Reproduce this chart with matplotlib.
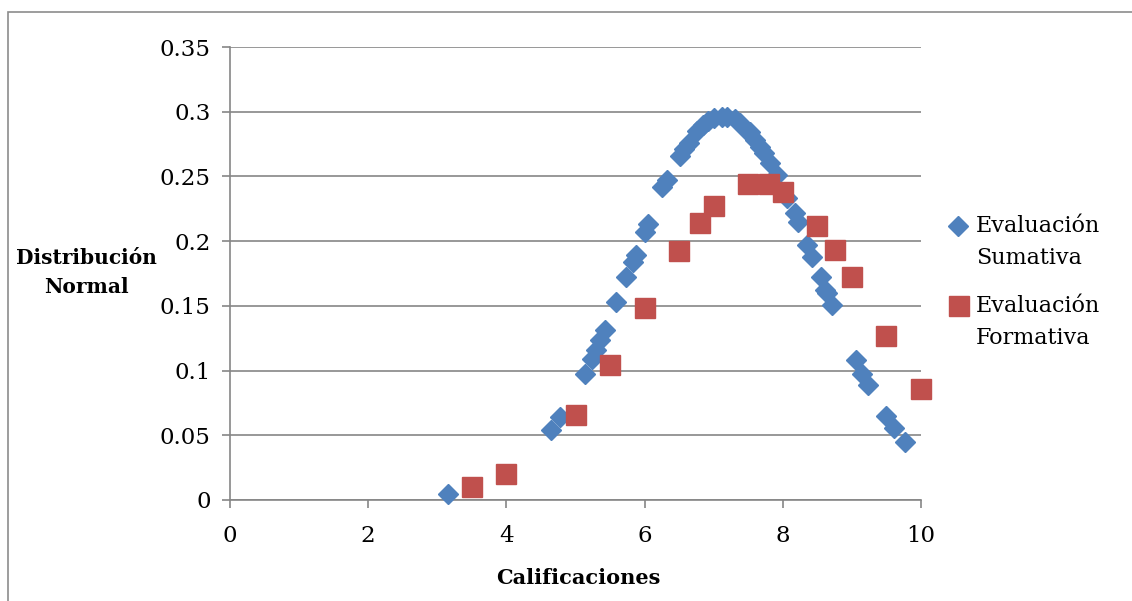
import matplotlib.pyplot as plt
from matplotlib.patches import Rectangle
from matplotlib.lines import Line2D

# Evaluación Sumativa
sum_x = [3.15, 4.65, 4.78, 5.14, 5.24, 5.30, 5.35, 5.43, 5.59, 5.73, 5.83, 5.88,
         6.00, 6.05, 6.25, 6.32, 6.51, 6.57, 6.64, 6.76, 6.84, 6.92, 7.00, 7.12,
         7.19, 7.31, 7.38, 7.45, 7.53, 7.60, 7.67, 7.73, 7.81, 7.92, 8.06, 8.17,
         8.22, 8.35, 8.42, 8.55, 8.61, 8.64, 8.71, 9.06, 9.15, 9.23, 9.49, 9.61,
         9.77]
sum_y = [0.005, 0.054, 0.064, 0.097, 0.109, 0.116, 0.124, 0.131, 0.153, 0.172,
         0.184, 0.189, 0.207, 0.213, 0.242, 0.247, 0.266, 0.271, 0.276, 0.285,
         0.290, 0.293, 0.295, 0.296, 0.296, 0.294, 0.291, 0.287, 0.284, 0.278,
         0.273, 0.268, 0.260, 0.251, 0.233, 0.222, 0.215, 0.197, 0.188, 0.172,
         0.162, 0.160, 0.151, 0.108, 0.097, 0.089, 0.065, 0.056, 0.045]

# Evaluación Formativa
form_x = [3.5, 4.0, 5.0, 5.5, 6.0, 6.5, 6.8, 7.0, 7.5, 7.8, 8.0, 8.5, 8.75,
          9.0, 9.5, 10.0]
form_y = [0.010, 0.020, 0.066, 0.104, 0.148, 0.192, 0.214, 0.227, 0.244, 0.244,
          0.238, 0.212, 0.193, 0.172, 0.127, 0.086]

x_ticks = [0, 2, 4, 6, 8, 10]
y_ticks = [0, 0.05, 0.1, 0.15, 0.2, 0.25, 0.3, 0.35]
y_tick_labels = ['0', '0.05', '0.1', '0.15', '0.2', '0.25', '0.3', '0.35']

series_names = [['Evaluación', 'Sumativa'], ['Evaluación', 'Formativa']]
blue = '#4F81BD'
red = '#C0504D'

plt.rcParams['font.family'] = ['DejaVu Serif']

W, H = 1132, 601
fig = plt.figure(figsize=(W / 100, H / 100), dpi=100)
fig.patches.append(Rectangle((8 / W, -0.1), 1.2, 1.1 - 12 / H, transform=fig.transFigure,
                             fill=False, edgecolor='#8c8c8c', linewidth=1.2))

ax = fig.add_axes([230 / W, 1 - 500 / H, (921 - 230) / W, (500 - 47) / H])
ax.set_xlim(0, 10)
ax.set_ylim(0, 0.35)
ax.set_xticks(x_ticks)
ax.set_yticks(y_ticks)
ax.set_yticklabels(y_tick_labels)
ax.yaxis.grid(True, color='#868686', linewidth=1.2)
ax.set_axisbelow(True)
for s in ['top', 'right']:
    ax.spines[s].set_visible(False)
for s in ['left', 'bottom']:
    ax.spines[s].set_color('#868686')
    ax.spines[s].set_linewidth(1.2)
ax.tick_params(axis='both', direction='out', length=6, width=1.2, color='#868686',
               labelsize=16.5, pad=8)
ax.tick_params(axis='x', pad=12)

ax.plot(sum_x, sum_y, linestyle='none', marker='D', markersize=10,
        color=blue, markeredgecolor=blue, clip_on=False, zorder=3)
ax.plot(form_x, form_y, linestyle='none', marker='s', markersize=15,
        color=red, markeredgecolor=red, clip_on=False, zorder=3)

fig.text(86 / W, 1 - 258 / H, 'Distribución', ha='center', va='center',
         fontsize=14.5, fontweight='bold')
fig.text(86 / W, 1 - 287 / H, 'Normal', ha='center', va='center',
         fontsize=14.5, fontweight='bold')
fig.text(578 / W, 1 - 578 / H, 'Calificaciones', ha='center', va='center',
         fontsize=15, fontweight='bold')

# legend drawn by hand so the marker sits next to the first line
fig.add_artist(Line2D([958 / W], [1 - 226 / H], marker='D', markersize=10,
                      color=blue, transform=fig.transFigure))
fig.add_artist(Line2D([959 / W], [1 - 306 / H], marker='s', markersize=14,
                      color=red, transform=fig.transFigure))
for (l1, l2), yy in zip(series_names, [226, 306]):
    fig.text(976 / W, 1 - yy / H, l1, ha='left', va='center', fontsize=16)
    fig.text(976 / W, 1 - (yy + 32) / H, l2, ha='left', va='center', fontsize=16)

fig.savefig('out.png', dpi=100)
